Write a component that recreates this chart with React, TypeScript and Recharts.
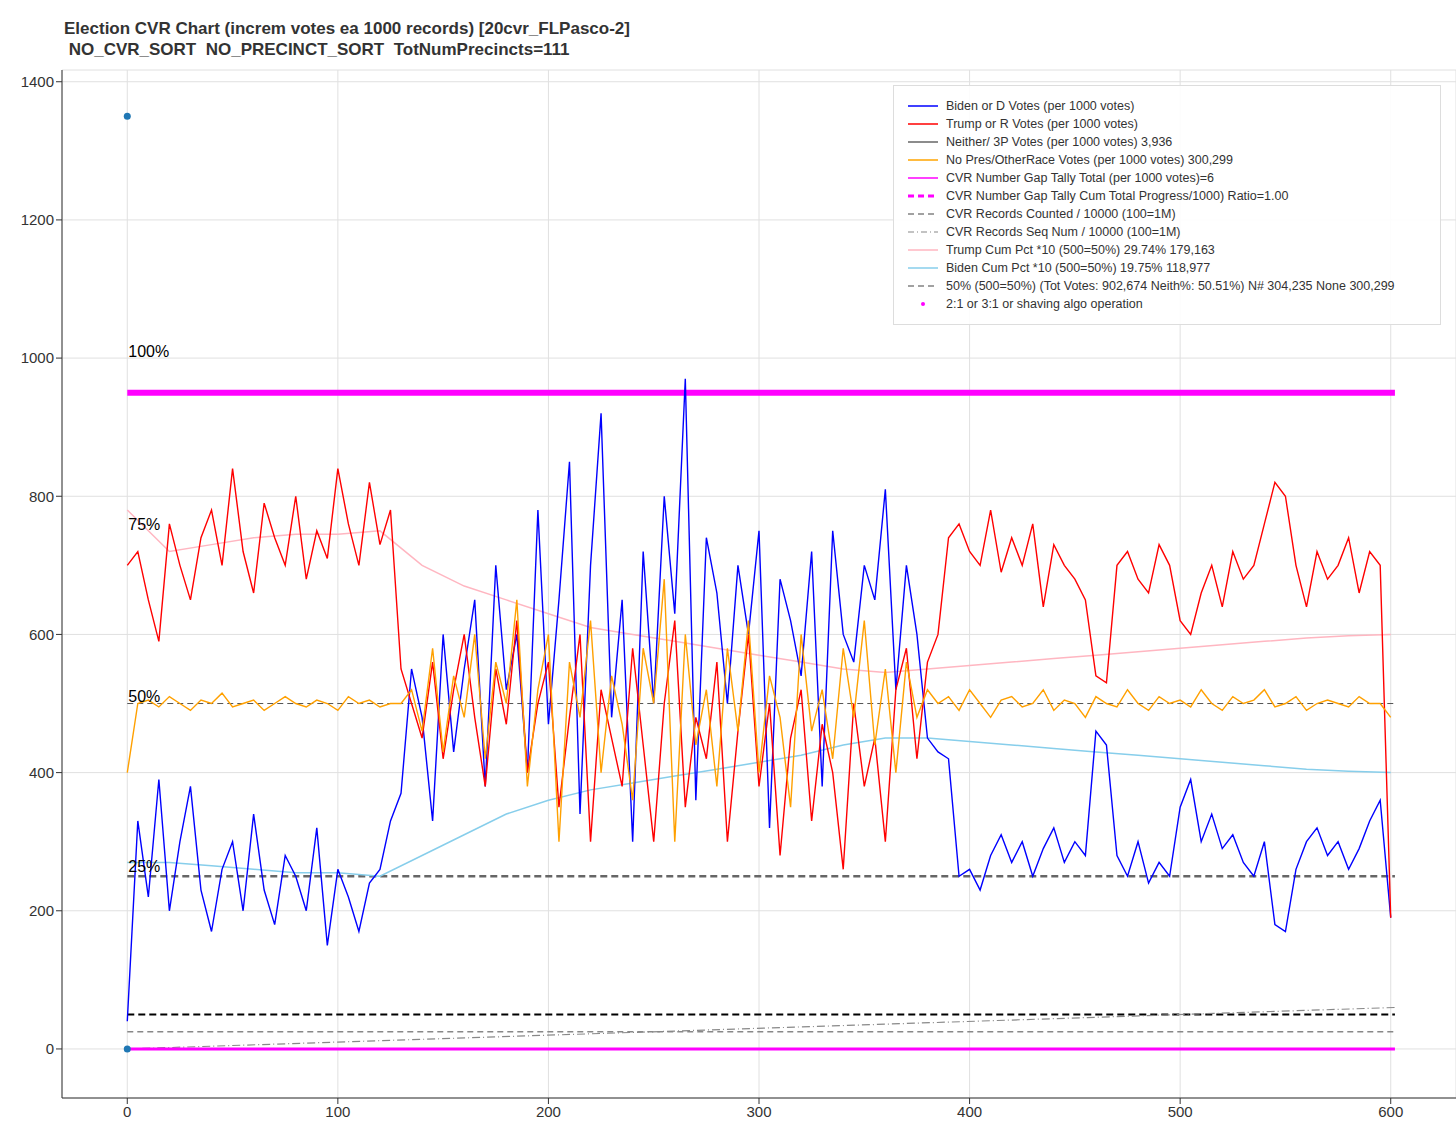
import React from 'react';
import { ComposedChart, Line, XAxis, YAxis, CartesianGrid, ReferenceLine, Scatter } from 'recharts';

// x = 0..600 step 5
const bidenVotes = [
  40, 330, 220, 390, 200, 300, 380, 230, 170, 260, 300, 200, 340, 230, 180, 280, 250, 200, 320, 150, 260, 220, 170, 240, 260, 330, 370,
  550, 480, 330, 600, 430, 550, 650, 380, 700, 520, 600, 400, 780, 470, 650, 850, 340, 700, 920, 480, 650, 300, 720, 500, 800, 630, 970, 360, 740, 660, 500, 700, 600, 750, 320, 680, 620, 540, 720, 380, 750, 600, 560, 700, 650, 810, 520, 700, 600, 450,
  430, 420, 250, 260, 230, 280, 310, 270, 300, 250, 290, 320, 270, 300, 280, 460, 440, 280, 250, 300, 240, 270, 250, 350, 390, 300, 340, 290, 310, 270, 250, 300, 180, 170, 260, 300, 320, 280, 300, 260, 290, 330, 360, 190,
];
const trumpVotes = [
  700, 720, 650, 590, 760, 700, 650, 740, 780, 700, 840, 720, 660, 790, 740, 700, 800, 680, 750, 710, 840, 760, 700, 820, 730, 780, 550,
  500, 450, 560, 420, 520, 600, 480, 380, 550, 470, 620, 400, 500, 560, 350, 480, 600, 300, 520, 450, 380, 580, 440, 300, 500, 620, 350, 480, 420, 560, 300, 460, 600, 380, 500, 280, 450, 520, 330, 470, 400, 260, 500, 380, 450, 300, 520, 580, 420, 560,
  600, 740, 760, 720, 700, 780, 690, 740, 700, 760, 640, 730, 700, 680, 650, 540, 530, 700, 720, 680, 660, 730, 700, 620, 600, 660, 700, 640, 720, 680, 700, 760, 820, 800, 700, 640, 720, 680, 700, 740, 660, 720, 700, 190,
];
const noPresVotes = [
  400, 500, 505, 495, 510, 500, 490, 505, 500, 515, 495, 500, 505, 490, 500, 510, 500, 495, 505, 500, 490, 510, 500, 505, 495, 500, 500,
  520, 460, 580, 430, 540, 480, 600, 420, 560, 500, 650, 380, 520, 600, 300, 560, 480, 620, 400, 540, 470, 360, 580, 500, 680, 300, 600, 440, 520, 380, 580, 460, 620, 400, 540, 480, 350, 600, 460, 520, 420, 580, 480, 620, 440, 550, 400, 560, 480, 520,
  500, 510, 490, 520, 500, 480, 505, 510, 495, 500, 520, 490, 505, 500, 480, 510, 500, 495, 520, 500, 490, 510, 500, 505, 495, 520, 500, 490, 510, 500, 505, 520, 495, 500, 510, 490, 500, 505, 500, 495, 510, 500, 500, 480,
];
// x = 0..600 step 20
const trumpCum = [780, 720, 730, 740, 745, 745, 750, 700, 670, 650, 630, 610, 600, 590, 580, 570, 560, 550, 545, 550, 555, 560, 565, 570, 575, 580, 585, 590, 595, 598, 600];
const bidenCum = [270, 270, 265, 260, 255, 255, 250, 280, 310, 340, 360, 375, 385, 395, 405, 415, 425, 440, 450, 450, 445, 440, 435, 430, 425, 420, 415, 410, 405, 402, 400];

const xTicks = [0, 100, 200, 300, 400, 500, 600];
const yTicks = [0, 200, 400, 600, 800, 1000, 1200, 1400];
const pctLabels = [{ y: 1010, t: '100%' }, { y: 760, t: '75%' }, { y: 510, t: '50%' }, { y: 265, t: '25%' }];
const dots = [{ x: 0, y: 1350 }, { x: 0, y: 0 }];

const data = bidenVotes.map((b, i) => {
  const x = i * 5;
  const k = x % 20 === 0 ? x / 20 : -1;
  return {
    x,
    biden: b,
    trump: trumpVotes[i],
    nopres: noPresVotes[i],
    trumpCum: k >= 0 ? trumpCum[k] : null,
    bidenCum: k >= 0 ? bidenCum[k] : null,
  };
});

const legendItems = [
  { c: '#0000ff', d: undefined, w: 1.5, t: 'Biden or D Votes (per 1000 votes)' },
  { c: '#ff0000', d: undefined, w: 1.5, t: 'Trump or R Votes (per 1000 votes)' },
  { c: '#666', d: undefined, w: 1.5, t: 'Neither/ 3P Votes (per 1000 votes) 3,936' },
  { c: '#ffa500', d: undefined, w: 1.5, t: 'No Pres/OtherRace Votes (per 1000 votes) 300,299' },
  { c: '#ff00ff', d: undefined, w: 1.5, t: 'CVR Number Gap Tally Total (per 1000 votes)=6' },
  { c: '#ff00ff', d: '6 4', w: 3, t: 'CVR Number Gap Tally Cum Total Progress/1000) Ratio=1.00' },
  { c: '#444', d: '6 4', w: 1.2, t: 'CVR Records Counted / 10000 (100=1M)' },
  { c: '#888', d: '6 3 1 3', w: 1.2, t: 'CVR Records Seq Num / 10000 (100=1M)' },
  { c: '#ffb6c1', d: undefined, w: 1.5, t: 'Trump Cum Pct *10 (500=50%) 29.74% 179,163' },
  { c: '#87ceeb', d: undefined, w: 1.5, t: 'Biden Cum Pct *10 (500=50%) 19.75% 118,977' },
  { c: '#444', d: '6 4', w: 1.2, t: '50% (500=50%) (Tot Votes: 902,674 Neith%: 50.51%) N# 304,235 None 300,299' },
];

export default function App() {
  return (
    <div style={{ position: 'absolute', left: 0, top: 0, width: 1456, height: 1131, background: '#fff', fontFamily: 'Arial, "Liberation Sans", sans-serif' }}>
      <div style={{ position: 'absolute', left: 64, top: 18, fontSize: 17, fontWeight: 'bold', color: '#333', lineHeight: '21px', whiteSpace: 'pre' }}>
        {'Election CVR Chart (increm votes ea 1000 records) [20cvr_FLPasco-2]\n NO_CVR_SORT  NO_PRECINCT_SORT  TotNumPrecincts=111'}
      </div>
      <ComposedChart width={1456} height={1131} data={data} margin={{ top: 70, right: 0, left: 0, bottom: 0 }}>
        <CartesianGrid stroke="#e0e0e0" />
        <XAxis dataKey="x" type="number" domain={[-31, 631]} ticks={xTicks} height={33} tick={{ fill: '#333', fontSize: 15 }} stroke="#333" allowDataOverflow />
        <YAxis type="number" domain={[-71, 1417]} ticks={yTicks} width={62} tick={{ fill: '#333', fontSize: 15 }} stroke="#333" allowDataOverflow />
        <ReferenceLine segment={[{ x: 0, y: 950 }, { x: 602, y: 950 }]} stroke="#ff00ff" strokeWidth={6} />
        <ReferenceLine segment={[{ x: 0, y: 500 }, { x: 602, y: 500 }]} stroke="#555" strokeDasharray="6 4" strokeWidth={1} />
        <ReferenceLine segment={[{ x: 0, y: 250 }, { x: 602, y: 250 }]} stroke="#666" strokeDasharray="7 4" strokeWidth={2.5} />
        <ReferenceLine segment={[{ x: 0, y: 50 }, { x: 602, y: 50 }]} stroke="#000" strokeDasharray="7 4" strokeWidth={2} />
        <ReferenceLine segment={[{ x: 0, y: 25 }, { x: 602, y: 25 }]} stroke="#888" strokeDasharray="6 4" strokeWidth={1.5} />
        <ReferenceLine segment={[{ x: 0, y: 0 }, { x: 602, y: 60 }]} stroke="#888" strokeDasharray="8 3 1 3" strokeWidth={1.2} />
        <ReferenceLine segment={[{ x: 0, y: 0 }, { x: 602, y: 0 }]} stroke="#ff00ff" strokeWidth={3} />
        {pctLabels.map((p) => (
          <ReferenceLine key={p.t} segment={[{ x: 0, y: p.y }, { x: 1, y: p.y }]} stroke="none"
            label={{ value: p.t, position: 'insideLeft', fill: '#000', fontSize: 16, dx: -4 }} />
        ))}
        <Line dataKey="trumpCum" stroke="#ffb6c1" dot={false} strokeWidth={1.5} connectNulls isAnimationActive={false} />
        <Line dataKey="bidenCum" stroke="#87ceeb" dot={false} strokeWidth={1.5} connectNulls isAnimationActive={false} />
        <Line dataKey="biden" stroke="#0000ff" dot={false} strokeWidth={1.4} isAnimationActive={false} />
        <Line dataKey="trump" stroke="#ff0000" dot={false} strokeWidth={1.4} isAnimationActive={false} />
        <Line dataKey="nopres" stroke="#ffa000" dot={false} strokeWidth={1.4} isAnimationActive={false} />
        <Scatter data={dots} dataKey="y" fill="#1f77b4" shape={(p: any) => <circle cx={p.cx} cy={p.cy} r={3.5} fill="#1f77b4" />} isAnimationActive={false} />
      </ComposedChart>
      <div style={{ position: 'absolute', left: 893, top: 85, width: 548, height: 240, border: '1px solid #ddd', background: 'rgba(255,255,255,0.9)', boxSizing: 'border-box', padding: '11px 0 0 12px', fontSize: 12.5, color: '#333' }}>
        {legendItems.map((l) => (
          <div key={l.t} style={{ display: 'flex', alignItems: 'center', height: 18 }}>
            <svg width={40} height={10}><line x1={2} y1={5} x2={32} y2={5} stroke={l.c} strokeWidth={l.w} strokeDasharray={l.d} /></svg>
            <span>{l.t}</span>
          </div>
        ))}
        <div style={{ display: 'flex', alignItems: 'center', height: 18 }}>
          <svg width={40} height={10}><circle cx={17} cy={5} r={2} fill="#ff00ff" /></svg>
          <span>2:1 or 3:1 or shaving algo operation</span>
        </div>
      </div>
    </div>
  );
}
